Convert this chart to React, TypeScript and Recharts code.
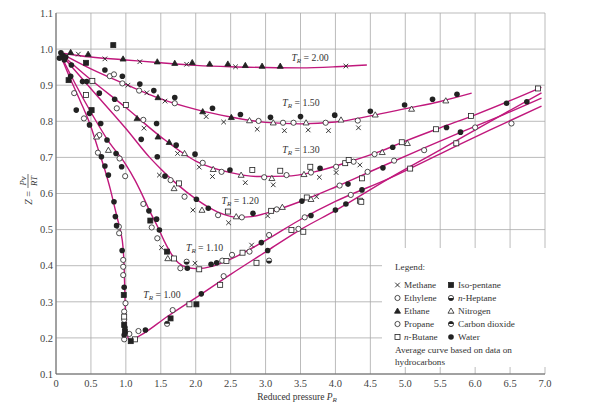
import {
  CartesianGrid,
  ComposedChart,
  Line,
  ReferenceDot,
  Scatter,
  XAxis,
  YAxis,
} from "recharts";

type Pt = [number, number];

const SERIF = "'Liberation Serif', 'DejaVu Serif', serif";
const PINK = "#c0187c";
const INK = "#222";

const X_TICKS = [0, 0.5, 1, 1.5, 2, 2.5, 3, 3.5, 4, 4.5, 5, 5.5, 6, 6.5, 7];
const Y_TICKS = [0.1, 0.2, 0.3, 0.4, 0.5, 0.6, 0.7, 0.8, 0.9, 1.0, 1.1];

// average curves, [reduced pressure, Z]
const TR_200: Pt[] = [
  [0.05, 0.99], [0.5, 0.978], [1.0, 0.97], [1.5, 0.962], [2.0, 0.955],
  [2.5, 0.951], [3.0, 0.949], [3.5, 0.948], [4.0, 0.951], [4.45, 0.956],
];
const TR_150: Pt[] = [
  [0.05, 0.99], [0.5, 0.945], [1.0, 0.902], [1.5, 0.862], [2.0, 0.833],
  [2.5, 0.812], [3.0, 0.797], [3.5, 0.793], [4.0, 0.798], [4.5, 0.815],
  [5.0, 0.835], [5.5, 0.855], [5.95, 0.878],
];
const TR_130: Pt[] = [
  [0.05, 0.99], [0.5, 0.915], [1.0, 0.838], [1.5, 0.757], [2.0, 0.69],
  [2.5, 0.658], [2.9, 0.647], [3.3, 0.648], [3.7, 0.66], [4.2, 0.688],
  [4.63, 0.716], [5.0, 0.745], [5.5, 0.782], [6.0, 0.818], [6.5, 0.857],
  [6.95, 0.894],
];
const TR_120: Pt[] = [
  [0.05, 0.99], [0.5, 0.89], [1.0, 0.78], [1.34, 0.7], [1.5, 0.668],
  [1.72, 0.628], [2.0, 0.585], [2.2, 0.56], [2.4, 0.542], [2.6, 0.534],
  [2.8, 0.536], [3.0, 0.545], [3.5, 0.578], [4.0, 0.618], [4.63, 0.672],
  [5.2, 0.72], [5.8, 0.77], [6.4, 0.818], [6.95, 0.864],
];
const TR_110: Pt[] = [
  [0.05, 0.99], [0.3, 0.895], [0.5, 0.825], [0.75, 0.745], [1.0, 0.68],
  [1.13, 0.637], [1.25, 0.59], [1.34, 0.552], [1.45, 0.51], [1.55, 0.468],
  [1.65, 0.433], [1.75, 0.408], [1.88, 0.395], [2.0, 0.392], [2.25, 0.399],
  [2.5, 0.418], [3.0, 0.47], [3.5, 0.528], [4.0, 0.578], [4.77, 0.642],
  [5.5, 0.71], [6.2, 0.775], [6.95, 0.842],
];
const TR_100: Pt[] = [
  [0.05, 0.99], [0.2, 0.92], [0.35, 0.855], [0.5, 0.785], [0.6, 0.725],
  [0.7, 0.665], [0.78, 0.61], [0.83, 0.57], [0.88, 0.53], [0.93, 0.49],
  [0.96, 0.45], [0.975, 0.4], [0.985, 0.33], [0.995, 0.26], [1.01, 0.215],
  [1.06, 0.193], [1.2, 0.206], [1.6, 0.26], [2.07, 0.32], [2.5, 0.376],
  [3.03, 0.442], [3.5, 0.5], [4.01, 0.554], [4.77, 0.642], [5.5, 0.721],
  [6.2, 0.798], [6.95, 0.879],
];

// measured points by substance, [reduced pressure, Z]
const methane: Pt[] = [
  [0.32, 0.986], [0.7, 0.973], [1.2, 0.965], [1.87, 0.958], [2.57, 0.951], [4.15, 0.953],
  [1.03, 0.9], [1.3, 0.879], [1.56, 0.856], [2.15, 0.813], [2.4, 0.798], [2.88, 0.778],
  [3.27, 0.774], [3.61, 0.776], [3.9, 0.774], [4.33, 0.782],
  [1.26, 0.781], [1.74, 0.711], [2.05, 0.673], [2.24, 0.647], [2.71, 0.63], [3.11, 0.624],
  [3.77, 0.645], [4.01, 0.658], [4.35, 0.679],
  [1.48, 0.651], [1.96, 0.554], [2.47, 0.519], [3.03, 0.538], [3.73, 0.591],
  [1.51, 0.45], [1.99, 0.407], [2.8, 0.457],
];
const ethylene: Pt[] = [
  [0.77, 0.925], [0.83, 0.93], [0.95, 0.905], [1.19, 0.885], [1.7, 0.85], [2.9, 0.801],
  [3.25, 0.796], [3.4, 0.796], [3.86, 0.796], [4.32, 0.802],
  [0.87, 0.836], [1.25, 0.804], [2.1, 0.685], [2.37, 0.66], [2.98, 0.645], [3.3, 0.651],
  [3.65, 0.658], [4.01, 0.674], [4.26, 0.688], [4.56, 0.709],
];
const ethane: Pt[] = [
  [0.21, 0.991], [0.46, 0.986], [0.96, 0.973], [1.45, 0.965], [1.7, 0.961], [1.95, 0.963],
  [2.2, 0.959], [2.46, 0.959], [2.71, 0.955], [2.95, 0.953], [3.21, 0.953],
  [1.46, 0.866], [2.1, 0.827], [2.51, 0.811], [1.16, 0.808], [1.46, 0.757], [1.62, 0.742],
];
const propane: Pt[] = [
  [1.64, 0.637], [1.84, 0.591], [2.32, 0.54], [2.66, 0.534], [3.16, 0.556], [4.06, 0.622],
  [4.46, 0.66], [4.84, 0.691], [5.27, 0.72], [6.0, 0.783],
  [0.26, 0.878], [0.62, 0.762], [0.91, 0.697], [0.99, 0.648], [1.25, 0.571], [1.37, 0.506],
  [1.45, 0.476], [1.78, 0.393], [2.38, 0.414], [2.52, 0.43], [2.77, 0.439], [3.05, 0.485],
  [3.56, 0.534], [4.22, 0.596],
  [0.4, 0.808], [0.6, 0.713], [0.9, 0.508], [0.904, 0.49], [0.962, 0.416], [0.962, 0.397],
  [0.962, 0.374], [0.995, 0.296], [0.976, 0.273], [0.976, 0.25], [0.976, 0.196], [1.05, 0.211],
  [1.18, 0.219], [1.67, 0.277], [2.4, 0.371], [3.47, 0.502], [6.52, 0.794],
];
const nButane: Pt[] = [
  [0.52, 0.912], [1.0, 0.845], [2.81, 0.665], [3.21, 0.663], [3.64, 0.674], [4.14, 0.684],
  [4.19, 0.693], [4.95, 0.742], [5.44, 0.778], [5.94, 0.815], [6.9, 0.891],
  [1.76, 0.628], [2.46, 0.55], [3.08, 0.552], [3.59, 0.589], [4.38, 0.642], [0.43, 0.873],
  [1.69, 0.42], [2.05, 0.39], [2.44, 0.413], [2.67, 0.436], [2.87, 0.408], [4.35, 0.58],
  [5.07, 0.669], [5.73, 0.739], [0.976, 0.259], [1.13, 0.196], [1.91, 0.293], [2.35, 0.347],
  [3.54, 0.494], [3.37, 0.499], [4.37, 0.577],
];
const isoPentane: Pt[] = [
  [0.82, 1.011], [0.18, 0.914], [0.43, 0.962], [0.51, 0.831], [1.35, 0.525], [1.59, 0.439],
  [0.97, 0.319], [0.976, 0.236], [0.986, 0.217], [1.07, 0.191], [1.64, 0.254], [2.01, 0.293],
];
const nHeptane: Pt[] = [[1.87, 0.411], [3.05, 0.414]];
const nitrogen: Pt[] = [
  [2.77, 0.802], [3.11, 0.796], [3.58, 0.796], [4.08, 0.804], [4.57, 0.818], [5.09, 0.834],
  [5.58, 0.857], [1.84, 0.711], [2.25, 0.667], [2.65, 0.651], [3.09, 0.642], [3.55, 0.653],
  [4.67, 0.714], [5.03, 0.739], [1.69, 0.614], [2.09, 0.554], [2.58, 0.536], [3.24, 0.562],
  [3.65, 0.584], [1.6, 0.42], [0.75, 0.72], [0.58, 0.757],
];
const carbonDioxide: Pt[] = [[1.59, 0.239]];
const water: Pt[] = [
  [0.07, 0.99], [0.1, 0.982], [0.05, 0.975], [0.14, 0.978], [0.12, 0.97],
  [0.7, 0.942], [0.95, 0.925], [1.2, 0.903], [1.4, 0.885], [1.7, 0.866], [2.24, 0.836],
  [2.64, 0.819], [3.07, 0.811], [3.5, 0.813], [3.99, 0.817], [4.5, 0.828], [4.99, 0.845],
  [5.39, 0.861], [5.74, 0.875],
  [0.44, 0.91], [0.62, 0.878], [0.84, 0.861], [1.44, 0.794], [1.22, 0.75], [1.72, 0.734],
  [1.99, 0.709], [2.49, 0.665], [3.78, 0.67], [4.82, 0.728], [5.59, 0.783], [6.45, 0.85],
  [1.45, 0.702], [1.56, 0.648], [2.01, 0.584], [2.18, 0.559], [2.82, 0.545], [3.52, 0.579],
  [4.18, 0.626], [4.68, 0.671], [5.79, 0.77], [6.74, 0.854],
  [0.22, 0.956], [0.21, 0.925], [0.38, 0.91], [0.48, 0.822], [0.64, 0.794], [0.73, 0.748],
  [0.86, 0.711], [0.94, 0.674], [1.33, 0.552], [1.44, 0.529], [1.48, 0.499], [1.88, 0.393],
  [2.22, 0.404], [2.3, 0.408], [2.94, 0.464], [3.65, 0.539], [4.38, 0.61],
  [0.29, 0.831], [0.48, 0.79], [0.65, 0.702], [0.7, 0.676], [0.75, 0.651], [0.83, 0.577],
  [0.85, 0.536], [0.867, 0.511], [0.947, 0.442], [0.976, 0.34], [0.986, 0.229],
  [0.976, 0.208], [1.28, 0.222], [2.08, 0.322], [3.03, 0.442], [4.0, 0.554], [4.15, 0.571],
];

type Kind =
  | "cross" | "ring" | "tri" | "square" | "fsquare"
  | "halfLow" | "triOpen" | "halfHigh" | "dot";

const CURVES = [
  { tr: "2.00", pts: TR_200, at: [3.37, 0.967] },
  { tr: "1.50", pts: TR_150, at: [3.24, 0.842] },
  { tr: "1.30", pts: TR_130, at: [3.24, 0.712] },
  { tr: "1.20", pts: TR_120, at: [2.37, 0.571] },
  { tr: "1.10", pts: TR_110, at: [1.86, 0.441] },
  { tr: "1.00", pts: TR_100, at: [1.25, 0.311] },
];

const SUBSTANCES: { name: string; kind: Kind; pts: Pt[] }[] = [
  { name: "Methane", kind: "cross", pts: methane },
  { name: "Ethylene", kind: "ring", pts: ethylene },
  { name: "Ethane", kind: "tri", pts: ethane },
  { name: "Propane", kind: "ring", pts: propane },
  { name: "n-Butane", kind: "square", pts: nButane },
  { name: "Iso-pentane", kind: "fsquare", pts: isoPentane },
  { name: "n-Heptane", kind: "halfLow", pts: nHeptane },
  { name: "Nitrogen", kind: "triOpen", pts: nitrogen },
  { name: "Carbon dioxide", kind: "halfHigh", pts: carbonDioxide },
  { name: "Water", kind: "dot", pts: water },
];

const toRows = (pts: Pt[]) => pts.map(([p, z]) => ({ p, z }));

function Glyph({ kind, cx, cy }: { kind: Kind; cx: number; cy: number }) {
  const r = 2.6;
  switch (kind) {
    case "cross":
      return (
        <path
          d={`M${cx - 2.3},${cy - 2.3}L${cx + 2.3},${cy + 2.3}M${cx - 2.3},${cy + 2.3}L${cx + 2.3},${cy - 2.3}`}
          stroke={INK}
          strokeWidth={0.9}
        />
      );
    case "ring":
      return <circle cx={cx} cy={cy} r={r} fill="#fff" stroke={INK} strokeWidth={0.8} />;
    case "dot":
      return <circle cx={cx} cy={cy} r={2.8} fill={INK} />;
    case "tri":
    case "triOpen":
      return (
        <path
          d={`M${cx},${cy - 3}L${cx + 3},${cy + 2.2}L${cx - 3},${cy + 2.2}Z`}
          fill={kind === "tri" ? INK : "#fff"}
          stroke={INK}
          strokeWidth={0.8}
        />
      );
    case "square":
    case "fsquare":
      return (
        <rect
          x={cx - 2.5}
          y={cy - 2.5}
          width={5}
          height={5}
          fill={kind === "fsquare" ? INK : "#fff"}
          stroke={INK}
          strokeWidth={0.8}
        />
      );
    case "halfLow":
    case "halfHigh": {
      const sweep = kind === "halfHigh" ? 1 : 0;
      return (
        <g>
          <circle cx={cx} cy={cy} r={r} fill="#fff" stroke={INK} strokeWidth={0.8} />
          <path d={`M${cx - r},${cy}A${r},${r} 0 0 ${sweep} ${cx + r},${cy}Z`} fill={INK} />
        </g>
      );
    }
  }
}

function TrLabel({ cx, cy, tr }: { cx: number; cy: number; tr: string }) {
  return (
    <text x={cx} y={cy} fontFamily={SERIF} fontSize={9.8} fill="#333">
      <tspan fontStyle="italic">T</tspan>
      <tspan fontStyle="italic" fontSize={7} dy={2}>R</tspan>
      <tspan dy={-2}>{` = ${tr}`}</tspan>
    </text>
  );
}

function SubstanceName({ name }: { name: string }) {
  if (!name.startsWith("n-")) return <>{name}</>;
  return (
    <>
      <tspan fontStyle="italic">n</tspan>
      {name.slice(1)}
    </>
  );
}

const LEGEND_ROWS = [0, 1, 2, 3, 4];

export default function App() {
  return (
    <div style={{ position: "absolute", left: 0, top: 0, width: 612, height: 410, background: "#fff" }}>
      <ComposedChart width={612} height={410} margin={{ top: 13, right: 67, bottom: 6, left: 6 }}>
        <CartesianGrid stroke="#a9a9a9" strokeWidth={0.8} />
        <XAxis
          dataKey="p"
          type="number"
          domain={[0, 7]}
          ticks={X_TICKS}
          height={30}
          axisLine={{ stroke: "#666" }}
          tickLine={false}
          tickSize={0}
          tickMargin={6}
          tick={{ fontSize: 10.5, fontFamily: SERIF, fill: "#444" }}
          tickFormatter={(v: number) => (v === 0 ? "0" : v.toFixed(1))}
        />
        <YAxis
          dataKey="z"
          type="number"
          domain={[0.1, 1.1]}
          ticks={Y_TICKS}
          width={50}
          axisLine={{ stroke: "#666" }}
          tickLine={false}
          tickSize={0}
          tickMargin={3}
          tick={{ fontSize: 10.5, fontFamily: SERIF, fill: "#444" }}
          tickFormatter={(v: number) => v.toFixed(1)}
        />
        {CURVES.map((c) => (
          <Line
            key={c.tr}
            data={toRows(c.pts)}
            dataKey="z"
            type="monotone"
            stroke={PINK}
            strokeWidth={1.4}
            dot={false}
            isAnimationActive={false}
          />
        ))}
        {SUBSTANCES.map((s) => (
          <Scatter
            key={s.name}
            data={toRows(s.pts)}
            dataKey="z"
            isAnimationActive={false}
            shape={(props: any) => <Glyph kind={s.kind} cx={props.cx} cy={props.cy} />}
          />
        ))}
        {CURVES.map((c) => (
          <ReferenceDot
            key={`lbl-${c.tr}`}
            x={c.at[0]}
            y={c.at[1]}
            r={0}
            shape={(props: any) => <TrLabel cx={props.cx} cy={props.cy} tr={c.tr} />}
          />
        ))}
      </ComposedChart>

      <svg
        width={612}
        height={410}
        style={{ position: "absolute", left: 0, top: 0, pointerEvents: "none" }}
      >
        {/* y axis title: Z = Pv / RT */}
        <g transform="translate(28,189) rotate(-90)" fontFamily={SERIF} fill="#333">
          <text x={-2} y={3.5} textAnchor="end" fontSize={10}>
            <tspan fontStyle="italic">Z</tspan> =
          </text>
          <line x1={1} x2={15} y1={0} y2={0} stroke="#333" strokeWidth={0.7} />
          <text x={8} y={-2.5} textAnchor="middle" fontSize={8.5} fontStyle="italic">Pv</text>
          <text x={8} y={8.5} textAnchor="middle" fontSize={8.5} fontStyle="italic">RT</text>
        </g>

        {/* x axis title */}
        <text x={297} y={400} textAnchor="middle" fontFamily={SERIF} fontSize={9.5} fill="#333">
          Reduced pressure <tspan fontStyle="italic">P</tspan>
          <tspan fontStyle="italic" fontSize={7} dy={2}>R</tspan>
        </text>

        {/* legend panel */}
        <rect x={382} y={248} width={164} height={119} fill="#fff" />
        <g fontFamily={SERIF} fontSize={9.2} fill="#333">
          <text x={395} y={270}>Legend:</text>
          {LEGEND_ROWS.map((i) => {
            const left = SUBSTANCES[i];
            const right = SUBSTANCES[i + 5];
            const y = 285 + i * 13;
            return (
              <g key={i}>
                <Glyph kind={left.kind} cx={397.5} cy={y} />
                <text x={404} y={y + 3}>
                  <SubstanceName name={left.name} />
                </text>
                <Glyph kind={right.kind} cx={451} cy={y} />
                <text x={458} y={y + 3}>
                  <SubstanceName name={right.name} />
                </text>
              </g>
            );
          })}
          <text x={395} y={353}>Average curve based on data on</text>
          <text x={395} y={365}>hydrocarbons</text>
        </g>
      </svg>
    </div>
  );
}
